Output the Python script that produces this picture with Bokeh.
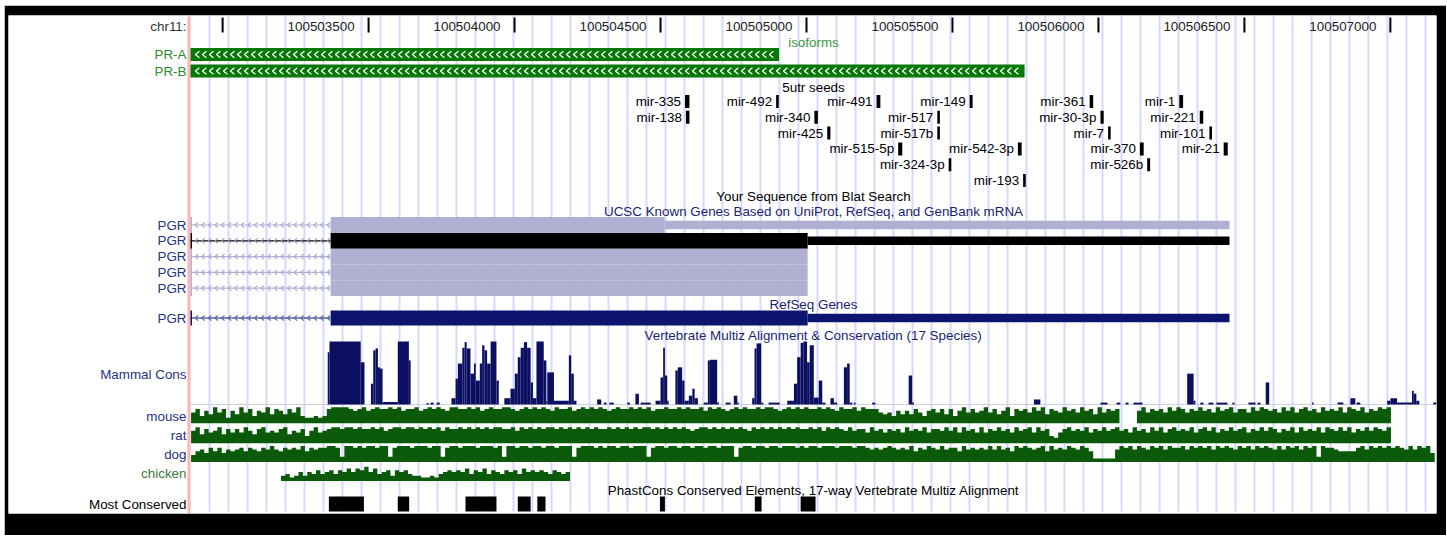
import numpy as np
from bokeh.plotting import figure
from bokeh.models import Range1d, Spacer
from bokeh.layouts import column, row
from bokeh.core.properties import value
from bokeh.embed import file_html
from bokeh.resources import INLINE

FONT = value("Liberation Sans")

# ======================= DATA =======================
chrom_label = "chr11:"
view_start = 100502890
view_end = 100507158

ruler_ticks = [100503000, 100503500, 100504000, 100504500, 100505000,
               100505500, 100506000, 100506500, 100507000]
ruler_labels = ["", "100503500", "100504000", "100504500", "100505000",
                "100505500", "100506000", "100506500", "100507000"]

isoform_names = ["PR-A", "PR-B"]
isoform_starts = [100502890, 100502890]
isoform_ends = [100504906, 100505747]

mir_names = ["mir-335", "mir-492", "mir-491", "mir-149", "mir-361", "mir-1",
             "mir-138", "mir-340", "mir-517", "mir-30-3p", "mir-221",
             "mir-425", "mir-517b", "mir-7", "mir-101",
             "mir-515-5p", "mir-542-3p", "mir-370", "mir-21",
             "mir-324-3p", "mir-526b",
             "mir-193"]
mir_starts = [100504584, 100504896, 100505240, 100505559, 100505970, 100506277,
              100504587, 100505027, 100505448, 100506007, 100506347,
              100505071, 100505448, 100506033, 100506380,
              100505314, 100505724, 100506142, 100506429,
              100505487, 100506167,
              100505742]
mir_ends = [100504599, 100504905, 100505253, 100505569, 100505982, 100506290,
            100504599, 100505039, 100505457, 100506018, 100506359,
            100505082, 100505457, 100506042, 100506389,
            100505328, 100505737, 100506155, 100506443,
            100505496, 100506177,
            100505751]
mir_rows = [0, 0, 0, 0, 0, 0, 1, 1, 1, 1, 1, 2, 2, 2, 2, 3, 3, 3, 3, 4, 4, 5]

known_names = ["PGR", "PGR", "PGR", "PGR", "PGR"]
known_exon_starts = [100503370, 100503370, 100503370, 100503370, 100503370]
known_cds_ends = [100504514, 100505004, 100505004, 100505004, 100505004]
known_tx_ends = [100506449, 100506449, 100505004, 100505004, 100505004]
known_selected = [False, True, False, False, False]

refseq_names = ["PGR"]
refseq_exon_starts = [100503370]
refseq_cds_ends = [100505004]
refseq_tx_ends = [100506449]

cons_starts = [100503360, 100503366, 100503473, 100503508, 100503516, 100503524, 100503532, 100503539,
               100503548, 100503600, 100503638, 100503698, 100503712, 100503733, 100503784, 100503798,
               100503806, 100503821, 100503829, 100503836, 100503849, 100503861, 100503867, 100503881,
               100503889, 100503897, 100503906, 100503918, 100503938, 100503965, 100503986, 100504001,
               100504011, 100504021, 100504032, 100504043, 100504055, 100504063, 100504075, 100504100,
               100504109, 100504112, 100504135, 100504186, 100504194, 100504203, 100504283, 100504306,
               100504325, 100504386, 100504414, 100504432, 100504483, 100504500, 100504509, 100504515,
               100504523, 100504551, 100504559, 100504574, 100504582, 100504597, 100504609, 100504617,
               100504648, 100504662, 100504669, 100504694, 100504723, 100504751, 100504763, 100504814,
               100504822, 100504829, 100504845, 100504870, 100504934, 100504957, 100504968, 100504980,
               100504989, 100505002, 100505011, 100505025, 100505042, 100505054, 100505082, 100505094,
               100505128, 100505139, 100505148, 100505162, 100505225, 100505350, 100505362, 100505779,
               100506007, 100506062, 100506093, 100506120, 100506304, 100506326, 100506349, 100506377,
               100506404, 100506459, 100506514, 100506545, 100506573, 100506732, 100506819, 100506863,
               100506884, 100506989, 100507000, 100507023, 100507074, 100507080, 100507089, 100507147]
cons_ends = [100503366, 100503473, 100503486, 100503516, 100503524, 100503532, 100503539, 100503548,
             100503600, 100503638, 100503644, 100503707, 100503723, 100503744, 100503798, 100503806,
             100503821, 100503829, 100503836, 100503849, 100503861, 100503867, 100503881, 100503889,
             100503897, 100503906, 100503918, 100503938, 100503946, 100503986, 100504001, 100504011,
             100504021, 100504032, 100504043, 100504055, 100504063, 100504075, 100504100, 100504109,
             100504112, 100504135, 100504186, 100504194, 100504203, 100504212, 100504297, 100504315,
             100504340, 100504395, 100504426, 100504466, 100504500, 100504509, 100504515, 100504523,
             100504528, 100504559, 100504574, 100504582, 100504597, 100504609, 100504617, 100504628,
             100504662, 100504669, 100504694, 100504700, 100504740, 100504763, 100504768, 100504822,
             100504829, 100504845, 100504852, 100504908, 100504957, 100504968, 100504980, 100504989,
             100505002, 100505011, 100505025, 100505042, 100505054, 100505065, 100505094, 100505105,
             100505139, 100505148, 100505157, 100505168, 100505236, 100505362, 100505368, 100505801,
             100506031, 100506075, 100506103, 100506151, 100506326, 100506332, 100506360, 100506394,
             100506442, 100506466, 100506538, 100506555, 100506585, 100506737, 100506839, 100506880,
             100506897, 100507000, 100507023, 100507074, 100507080, 100507089, 100507099, 100507158]
cons_scores = [0.83, 1.00, 0.67, 0.33, 0.86, 0.89, 0.59, 0.57,
               0.04, 1.00, 0.70, 0.02, 0.03, 0.03, 0.10, 0.41,
               0.65, 0.90, 0.99, 0.89, 0.49, 0.65, 0.38, 0.65,
               0.94, 0.86, 0.65, 1.00, 0.38, 0.10, 0.25, 0.49,
               0.75, 0.90, 0.99, 0.90, 0.35, 0.10, 1.00, 0.70,
               0.05, 0.51, 0.06, 0.78, 0.49, 0.06, 0.08, 0.03,
               0.03, 0.03, 0.17, 0.03, 0.06, 0.43, 0.90, 0.46,
               0.06, 0.54, 0.59, 0.38, 0.06, 0.14, 0.25, 0.10,
               0.03, 0.70, 0.71, 0.03, 0.03, 0.14, 0.03, 0.10,
               0.89, 0.97, 0.03, 0.03, 0.06, 0.33, 0.75, 0.98,
               1.00, 0.67, 0.94, 0.11, 0.38, 0.03, 0.10, 0.03,
               0.59, 0.65, 0.03, 0.03, 0.03, 0.46, 0.03, 0.08,
               0.03, 0.03, 0.03, 0.03, 0.49, 0.06, 0.03, 0.03,
               0.03, 0.03, 0.03, 0.03, 0.35, 0.03, 0.03, 0.10,
               0.03, 0.06, 0.10, 0.03, 0.22, 0.17, 0.06, 0.03]

# pairwise alignment levels (0..9) in 15 bp bins
species_bin = 15
mouse_start = 100502892
mouse_levels = [int(c) for c in (
    "6847596837" "5968476958" "7586943343" "4899998789" "7898898978"
    "8978989879" "9889897898" "8998789898" "9879889789" "8989878988"
    "9898978898" "8989889798" "9878989889" "8998789898" "9889898798"
    "8979888656" "4757586478" "6858479686" "7968579487" "8697958769"
    "7869785968" "7800007968" "7869798687" "9786978968" "8697987869"
    "7968978697" "8796987968" "7989")]
rat_start = 100502892
rat_levels = [int(c) for c in (
    "7958679586" "8697589676" "8957684796" "7899899898" "8989789989"
    "9898989798" "8989898989" "9889798989" "8998989898" "9898898989"
    "8989989898" "9898789989" "8989898798" "9898989898" "8989798987"
    "9788697868" "7869787968" "8797969786" "9687978697" "8969784368"
    "9787968797" "8978697869" "7968978796" "8979687978" "9687979868"
    "7969787969" "8797968797" "9879")]
dog_start = 100502892
dog_levels = [int(c) for c in (
    "4675868576" "7868768797" "6878796878" "8998399898" "9989938999"
    "8999899389" "9899989998" "9399899899" "8998999389" "9989899899"
    "8999389989" "9899899899" "8999389989" "9899899989" "8998999899"
    "9899878789" "8787968798" "7978869787" "8797978698" "9878969787"
    "9879862222" "2798979879" "8979889798" "9897989879" "8979898797"
    "9897989398" "8766668979" "8989898797" "9895")]
chicken_start = 100503200
chicken_levels = [int(c) for c in (
    "3423535464" "5646575768" "5745636564" "3322324565" "6574657465"
    "4656475656" "546545")]

species_names = ["mouse", "rat", "dog", "chicken"]

phast_starts = [100503364, 100503600, 100503832, 100504011, 100504078,
                100504498, 100504823, 100504980]
phast_ends = [100503484, 100503639, 100503938, 100504055, 100504106,
              100504515, 100504846, 100505031]

# ======================= LAYOUT / STYLE =======================
DATA_PX = 1246                      # width of the data area in pixels
LABEL_PX = 182                      # width of the label column
BP = (view_end - view_start) / DATA_PX   # bp per pixel
FS = "13.4px"

NAVY_LBL = "#263382"
NAVY_TTL = "#1a1f72"
GREEN_LBL = "#2b8a2b"

p = figure(width=1442, height=530,
           x_range=Range1d(view_start - LABEL_PX * BP, view_end),
           y_range=Range1d(513, 15),
           output_backend="svg", toolbar_location=None,
           min_border_left=4, min_border_right=10, min_border_top=10, min_border_bottom=22,
           x_axis_type=None, y_axis_type=None)
p.outline_line_color = None
p.border_fill_color = "black"
p.background_fill_color = "white"
p.grid.visible = False


def txt(x, y, t, color="black", align="right", xoff=0):
    p.text(x=x, y=y, text=t, text_color=color, text_align=align, text_baseline="middle",
           x_offset=xoff, text_font=FONT, text_font_size=FS)


def chevrons(x0, x1, yc, step_px, w_px, h_px, color, lw):
    xs, ys = [], []
    c = x0 + 0.7 * step_px * BP
    while c + w_px * BP < x1:
        xs.append([c + w_px * BP, c, c + w_px * BP])
        ys.append([yc - h_px, yc, yc + h_px])
        c += step_px * BP
    p.multi_line(xs, ys, line_color=color, line_width=lw)


# guide lines
gx = [view_start + k * 19 * BP for k in range(1, 70) if view_start + k * 19 * BP < view_end]
p.segment(x0=gx, y0=[15] * len(gx), x1=gx, y1=[511] * len(gx), line_color="#d8d8ff", line_width=2)
# left pink edge
px_edge = view_start - 1.5 * BP
p.segment(x0=[px_edge], y0=[16], x1=[px_edge], y1=[513], line_color="#ffb4b4", line_width=3)

# ruler
p.segment(x0=ruler_ticks, y0=[17] * len(ruler_ticks), x1=ruler_ticks, y1=[32] * len(ruler_ticks),
          line_color="black", line_width=2)
txt(ruler_ticks[1:], [25.5] * (len(ruler_ticks) - 1), ruler_labels[1:], color="#222222", xoff=-14)
txt([view_start], [25.5], [chrom_label], color="#333333", xoff=-4)

mid = (view_start + view_end) / 2

# isoforms
txt([mid], [41.5], ["isoforms"], color="#3a9a3a", align="center")
iso_y = [54, 70.5]
p.quad(left=isoform_starts, right=isoform_ends, top=[y - 6.5 for y in iso_y],
       bottom=[y + 6.5 for y in iso_y], fill_color="#067806", line_color=None)
for s, e, y in zip(isoform_starts, isoform_ends, iso_y):
    chevrons(s, e, y, 7.0, 4.0, 3.2, "white", 1.3)
txt([view_start] * 2, iso_y, isoform_names, color=GREEN_LBL, xoff=-4)

# 5utr seeds
txt([mid], [86.5], ["5utr seeds"], align="center")
mir_y = [101 + 15.8 * r for r in mir_rows]
p.quad(left=mir_starts, right=mir_ends, top=[y - 6.5 for y in mir_y],
       bottom=[y + 6.5 for y in mir_y], fill_color="black", line_color=None)
txt(mir_starts, mir_y, mir_names, xoff=-4)

# blat & known genes
txt([mid], [196], ["Your Sequence from Blat Search"], align="center")
txt([mid], [211], ["UCSC Known Genes Based on UniProt, RefSeq, and GenBank mRNA"],
    color=NAVY_TTL, align="center")
known_y = [224.5 + 15.8 * i for i in range(5)]
for i in range(5):
    y = known_y[i]
    col = "black" if known_selected[i] else "#b0b0d3"
    chev = "#9a9ac0" if known_selected[i] else "#a8a8d0"
    p.segment(x0=[view_start], y0=[y], x1=[known_exon_starts[i]], y1=[y], line_color=col, line_width=1.2)
    chevrons(view_start, known_exon_starts[i], y, 6.6, 3.0, 2.6, chev, 1.1)
    p.quad(left=[view_start], right=[view_start + 1.5 * BP], top=[y - 7.9], bottom=[y + 7.9],
           fill_color=col, line_color=None)
    p.quad(left=[known_exon_starts[i]], right=[known_cds_ends[i]], top=[y - 7.9], bottom=[y + 7.9],
           fill_color=col, line_color=None)
    if known_tx_ends[i] > known_cds_ends[i]:
        p.quad(left=[known_cds_ends[i]], right=[known_tx_ends[i]], top=[y - 4.3], bottom=[y + 4.3],
               fill_color=col, line_color=None)
txt([view_start] * 5, known_y, known_names, color=NAVY_LBL, xoff=-4)

# refseq
txt([mid], [304], ["RefSeq Genes"], color=NAVY_TTL, align="center")
ry = 317.5
RCOL = "#0c1470"
p.segment(x0=[view_start], y0=[ry], x1=[refseq_exon_starts[0]], y1=[ry], line_color=RCOL, line_width=1.2)
chevrons(view_start, refseq_exon_starts[0], ry, 6.6, 3.0, 2.6, "#5a64a8", 1.1)
p.quad(left=[view_start], right=[view_start + 1.5 * BP], top=[ry - 7.5], bottom=[ry + 7.5],
       fill_color=RCOL, line_color=None)
p.quad(left=refseq_exon_starts, right=refseq_cds_ends, top=[ry - 7.5], bottom=[ry + 7.5],
       fill_color=RCOL, line_color=None)
p.quad(left=refseq_cds_ends, right=refseq_tx_ends, top=[ry - 4.2], bottom=[ry + 4.2],
       fill_color=RCOL, line_color=None)
txt([view_start], [ry], refseq_names, color=NAVY_LBL, xoff=-4)

# conservation
txt([mid], [335], ["Vertebrate Multiz Alignment & Conservation (17 Species)"], color=NAVY_TTL, align="center")
CB, CH = 404, 63
p.segment(x0=[view_start], y0=[CB], x1=[view_end], y1=[CB], line_color="#cfcfd8", line_width=1)
p.quad(left=cons_starts, right=cons_ends, bottom=[CB] * len(cons_starts),
       top=[CB - CH * s for s in cons_scores], fill_color="#0a0f62", line_color=None)
txt([view_start], [374], ["Mammal Cons"], color=NAVY_LBL, xoff=-4)

# species
sp_tracks = [(mouse_start, mouse_levels, 422.7), (rat_start, rat_levels, 442.7),
             (dog_start, dog_levels, 461.5), (chicken_start, chicken_levels, 480.5)]
for st, lev, base in sp_tracks:
    n = len(lev)
    xs = [st + i * species_bin for i in range(n + 1)]
    tops = [base - 16 * v / 9.0 for v in lev] + [base - 16 * lev[-1] / 9.0]
    p.varea_step(x=xs, y1=[base] * (n + 1), y2=tops, step_mode="after", fill_color="#0a5a0a")
txt([view_start] * 4, [415.5, 434.5, 454, 472.5], species_names,
    color=[NAVY_LBL, NAVY_LBL, NAVY_LBL, "#3a7a3a"], xoff=-4)

# phastcons
txt([mid], [490], ["PhastCons Conserved Elements, 17-way Vertebrate Multiz Alignment"], align="center")
p.quad(left=phast_starts, right=phast_ends, top=[496] * len(phast_starts), bottom=[511] * len(phast_starts),
       fill_color="black", line_color=None)
txt([view_start], [504], ["Most Conserved"], xoff=-4)

layout = column(Spacer(width=1446, height=5), row(Spacer(width=4, height=530), p))
open("out.html", "w").write(file_html(layout, INLINE, title="UCSC PGR"))
